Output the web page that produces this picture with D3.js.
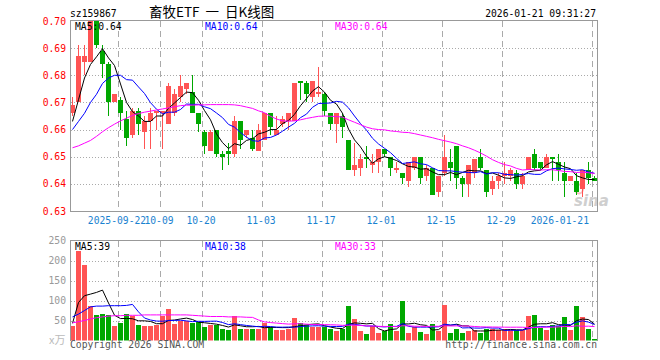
<!DOCTYPE html>
<html><head><meta charset="utf-8">
<script src="https://cdn.jsdelivr.net/npm/d3@7/dist/d3.min.js"></script>
<style>html,body{margin:0;padding:0;background:#fff}svg{display:block}</style>
</head><body>
<svg id="chart" width="660" height="360"></svg>
<script>
// ---------------- data ----------------
const stockCode = "sz159867";
const chartTitle = "畜牧ETF  一  日K线图";
const timeStamp = "2026-01-21 09:31:27";

const dates = [
"2025-09-10","2025-09-11","2025-09-12","2025-09-15","2025-09-16","2025-09-17","2025-09-18","2025-09-19","2025-09-22","2025-09-23",
"2025-09-24","2025-09-25","2025-09-26","2025-09-29","2025-09-30","2025-10-09","2025-10-10","2025-10-13","2025-10-14","2025-10-15",
"2025-10-16","2025-10-17","2025-10-20","2025-10-21","2025-10-22","2025-10-23","2025-10-24","2025-10-27","2025-10-28","2025-10-29",
"2025-10-30","2025-10-31","2025-11-03","2025-11-04","2025-11-05","2025-11-06","2025-11-07","2025-11-10","2025-11-11","2025-11-12",
"2025-11-13","2025-11-14","2025-11-17","2025-11-18","2025-11-19","2025-11-20","2025-11-21","2025-11-24","2025-11-25","2025-11-26",
"2025-11-27","2025-11-28","2025-12-01","2025-12-02","2025-12-03","2025-12-04","2025-12-05","2025-12-08","2025-12-09","2025-12-10",
"2025-12-11","2025-12-12","2025-12-15","2025-12-16","2025-12-17","2025-12-18","2025-12-19","2025-12-22","2025-12-23","2025-12-24",
"2025-12-25","2025-12-26","2025-12-29","2025-12-30","2025-12-31","2026-01-05","2026-01-06","2026-01-07","2026-01-08","2026-01-09",
"2026-01-12","2026-01-13","2026-01-14","2026-01-15","2026-01-16","2026-01-19","2026-01-20","2026-01-21"];

const open = [
0.666,0.670,0.685,0.685,0.700,0.689,0.684,0.670,0.671,0.664,
0.658,0.667,0.659,0.663,0.666,0.666,0.662,0.666,0.672,0.675,
0.674,0.666,0.659,0.652,0.660,0.651,0.652,0.651,0.663,0.658,
0.657,0.652,0.656,0.666,0.658,0.662,0.663,0.663,0.678,0.677,
0.672,0.673,0.673,0.666,0.662,0.665,0.656,0.645,0.646,0.650,
0.647,0.648,0.653,0.650,0.645,0.644,0.641,0.646,0.650,0.643,
0.646,0.637,0.644,0.648,0.654,0.642,0.640,0.644,0.650,0.645,
0.638,0.641,0.643,0.643,0.644,0.640,0.645,0.651,0.648,0.646,
0.650,0.648,0.644,0.641,0.641,0.638,0.645,0.642];
const high = [
0.672,0.691,0.691,0.701,0.701,0.691,0.685,0.673,0.672,0.667,
0.668,0.668,0.665,0.668,0.667,0.667,0.677,0.675,0.680,0.677,
0.680,0.666,0.660,0.660,0.660,0.652,0.655,0.665,0.663,0.660,
0.660,0.662,0.666,0.666,0.665,0.665,0.666,0.677,0.678,0.678,
0.678,0.683,0.674,0.666,0.666,0.666,0.656,0.655,0.651,0.654,
0.651,0.653,0.653,0.650,0.648,0.644,0.648,0.650,0.650,0.647,
0.646,0.643,0.658,0.653,0.654,0.643,0.647,0.649,0.653,0.645,
0.643,0.644,0.648,0.646,0.645,0.644,0.650,0.653,0.648,0.651,
0.650,0.651,0.648,0.643,0.644,0.645,0.648,0.643];
const low = [
0.665,0.670,0.680,0.685,0.690,0.679,0.665,0.670,0.660,0.654,
0.657,0.658,0.653,0.653,0.660,0.653,0.662,0.665,0.670,0.673,
0.666,0.659,0.651,0.652,0.650,0.645,0.647,0.650,0.653,0.657,
0.652,0.652,0.656,0.658,0.658,0.661,0.660,0.663,0.671,0.670,
0.670,0.672,0.665,0.660,0.655,0.657,0.645,0.643,0.643,0.646,
0.644,0.644,0.650,0.643,0.644,0.640,0.639,0.645,0.640,0.641,
0.636,0.635,0.643,0.641,0.638,0.635,0.635,0.642,0.645,0.635,
0.636,0.638,0.640,0.641,0.638,0.638,0.645,0.645,0.645,0.646,
0.641,0.641,0.635,0.641,0.636,0.635,0.640,0.641];
const close = [
0.669,0.687,0.687,0.700,0.691,0.684,0.670,0.673,0.666,0.657,
0.667,0.662,0.663,0.666,0.667,0.667,0.676,0.673,0.676,0.677,
0.666,0.662,0.654,0.659,0.651,0.650,0.651,0.663,0.656,0.660,
0.653,0.660,0.666,0.661,0.660,0.664,0.666,0.677,0.677,0.673,
0.678,0.674,0.667,0.662,0.666,0.661,0.645,0.647,0.649,0.649,
0.648,0.653,0.651,0.646,0.646,0.642,0.648,0.650,0.642,0.646,
0.636,0.643,0.650,0.646,0.642,0.640,0.647,0.649,0.646,0.637,
0.641,0.643,0.644,0.645,0.640,0.643,0.650,0.646,0.646,0.650,
0.649,0.645,0.641,0.643,0.637,0.645,0.642,0.641];

const ma5 = [
0.6630,0.6710,0.6790,0.6840,0.6868,0.6898,0.6864,0.6836,0.6768,0.6700,
0.6666,0.6650,0.6630,0.6630,0.6650,0.6650,0.6678,0.6698,0.6718,0.6738,
0.6736,0.6708,0.6670,0.6636,0.6584,0.6552,0.6530,0.6548,0.6542,0.6560,
0.6566,0.6584,0.6590,0.6600,0.6600,0.6622,0.6634,0.6656,0.6688,0.6714,
0.6742,0.6758,0.6738,0.6708,0.6694,0.6660,0.6602,0.6562,0.6536,0.6502,
0.6476,0.6492,0.6500,0.6494,0.6486,0.6474,0.6464,0.6462,0.6454,0.6456,
0.6444,0.6434,0.6434,0.6442,0.6434,0.6442,0.6450,0.6448,0.6448,0.6438,
0.6440,0.6432,0.6422,0.6420,0.6426,0.6430,0.6444,0.6448,0.6450,0.6470,
0.6482,0.6472,0.6462,0.6456,0.6430,0.6422,0.6416,0.6416];
const ma10 = [
0.6600,0.6630,0.6660,0.6700,0.6730,0.6770,0.6790,0.6800,0.6800,0.6784,
0.6782,0.6757,0.6733,0.6699,0.6675,0.6658,0.6664,0.6664,0.6674,0.6694,
0.6693,0.6693,0.6684,0.6677,0.6661,0.6644,0.6619,0.6609,0.6589,0.6572,
0.6559,0.6557,0.6569,0.6571,0.6580,0.6594,0.6609,0.6623,0.6644,0.6657,
0.6682,0.6696,0.6697,0.6698,0.6704,0.6701,0.6680,0.6650,0.6622,0.6598,
0.6568,0.6547,0.6531,0.6515,0.6494,0.6475,0.6478,0.6481,0.6474,0.6471,
0.6459,0.6449,0.6448,0.6448,0.6445,0.6443,0.6442,0.6441,0.6445,0.6436,
0.6441,0.6441,0.6435,0.6434,0.6432,0.6435,0.6438,0.6435,0.6435,0.6448,
0.6456,0.6458,0.6455,0.6453,0.6450,0.6452,0.6444,0.6439];
const ma30 = [
0.6533,0.6540,0.6550,0.6560,0.6575,0.6592,0.6607,0.6620,0.6632,0.6642,
0.6652,0.6659,0.6664,0.6668,0.6672,0.6676,0.6680,0.6684,0.6688,0.6690,
0.6690,0.6691,0.6691,0.6692,0.6692,0.6692,0.6692,0.6691,0.6688,0.6683,
0.6678,0.6669,0.6662,0.6649,0.6639,0.6632,0.6631,0.6632,0.6636,0.6641,
0.6645,0.6649,0.6650,0.6649,0.6648,0.6646,0.6636,0.6627,0.6618,0.6609,
0.6603,0.6600,0.6599,0.6595,0.6593,0.6590,0.6589,0.6585,0.6580,0.6575,
0.6570,0.6564,0.6559,0.6554,0.6548,0.6540,0.6533,0.6524,0.6514,0.6502,
0.6489,0.6479,0.6471,0.6466,0.6457,0.6451,0.6453,0.6452,0.6451,0.6452,
0.6452,0.6449,0.6446,0.6445,0.6442,0.6443,0.6441,0.6438];

const volume = [
37,225,189,86,64,66,64,36,44,66,
62,38,36,36,38,62,79,41,49,49,
44,46,34,40,40,28,26,62,28,28,
28,30,45,34,26,26,30,57,45,38,
34,34,34,28,23,30,86,53,23,16,
37,19,24,41,24,99,19,33,22,16,
41,24,89,20,30,20,23,26,20,30,
28,26,28,26,26,26,61,64,32,26,
40,36,60,26,86,60,30,3];
const vma5 = [
43,95,112,116,120.2,126,93.8,63.2,54.8,55.2,
54.4,49.2,49.2,47.6,42,42,50.2,51.2,53.8,56,
52.4,45.8,44.4,42.6,40.8,37.6,33.6,39.2,36.8,34.4,
34.4,35.2,31.8,33,32.6,32.2,32.2,34.6,36.8,39.2,
40.8,41.6,37,33.6,30.6,29.8,40.2,44,43,41.6,
43,29.6,23.8,27.4,29,41.4,41.4,43.2,39.4,37.8,
26.2,27.2,38.4,38,40.8,36.6,36.4,23.8,23.8,23.8,
25.4,26,26.4,27.6,26.8,26.4,33.4,40.6,41.8,41.8,
44.6,39.6,38.8,37.6,49.6,53.6,52.4,41];
const vma10 = [
59,66,75,84,86,86,87,87,87,87.7,
90.2,71.5,56.2,51.2,48.6,48.2,49.7,50.2,50.7,49,
47.2,48,47.8,48.2,48.4,45,39.7,41.8,39.7,37.6,
36,34.4,35.5,34.9,33.5,33.3,33.7,33.2,34.9,35.9,
36.5,36.9,35.8,35.2,34.9,35.3,40.9,40.5,38.3,36.1,
36.4,34.9,33.9,35.2,35.3,42.2,35.5,33.5,33.4,33.4,
33.8,34.3,40.8,38.7,39.3,31.4,31.8,31.1,30.9,32.3,
31,31.2,25.1,25.7,25.3,25.9,29.7,33.5,34.7,34.3,
35.5,36.5,39.7,39.7,45.7,49.1,46,39.9];
const vma30 = [
44,47,50,54,57,59,61,62,62,63,
63,63,64,64,64,64,64,64,64,64,
63,62,61,60,60,60,59,59,59,58.1,
57.8,51.3,46.5,44.8,43.5,42.2,41,41.7,41.8,40.8,
39.9,39.8,39.7,39.4,38.9,37.9,38.1,38.5,37.6,36.5,
36.3,35.4,35.1,35.1,34.6,36.9,36.7,35.7,35.5,35.1,
35.6,35.4,36.8,36.4,36.5,36.3,36.1,35,34.2,33.9,
33.7,33.5,33.3,33.2,33.3,33.2,32.3,32.7,33,33.3,
33.4,34,35.2,34.7,36.8,35.5,35.8,34.8];

const priceTicks = [0.63,0.64,0.65,0.66,0.67,0.68,0.69,0.70];
const volumeTicks = [50,100,150,200,250];
const xTickIndex = [8,15,22,32,42,52,62,72,87];
const xTickLabels = ["2025-09-22","10-09","10-20","11-03","11-17","12-01","12-15","12-29","2026-01-21"];
const priceLegend = ["MA5:0.64","MA10:0.64","MA30:0.64"];
const volumeLegend = ["MA5:39","MA10:38","MA30:33"];
const maColors = ["#000000","#0000ff","#ff00ff"];

// ---------------- drawing ----------------
const N = dates.length;
const RED = "#ff5454", GREEN = "#00a800";
const MONO = "'DejaVu Sans Mono', 'Liberation Mono', monospace";
const FS = "9.7px";
const svg = d3.select("#chart");

const frameL = 70.5, frameR = 597.5;
const pTop = 20.5, pBot = 211.5, vTop = 240.5, vBot = 340.5;

const x = d3.scaleBand().domain(d3.range(N)).range([70, 70 + 6 * N]).paddingInner(0).paddingOuter(0);
const bw = x.bandwidth() - 1;
const yP = d3.scaleLinear().domain([0.63, 0.70]).range([211, 21]);
const yV = d3.scaleLinear().domain([0, 250]).range([340.5, 240.5]);

const defs = svg.append("defs");
defs.append("clipPath").attr("id", "clipP").append("rect")
  .attr("x", frameL).attr("y", pTop).attr("width", frameR - frameL).attr("height", pBot - pTop);
defs.append("clipPath").attr("id", "clipV").append("rect")
  .attr("x", frameL).attr("y", vTop).attr("width", frameR - frameL).attr("height", vBot - vTop);

// header
svg.append("text").attr("x", 70).attr("y", 17).attr("font-family", MONO).attr("font-size", FS)
  .attr("fill", "#000").text(stockCode);
svg.append("text").attr("x", 149).attr("y", 16.5).attr("font-family", "'Noto Sans CJK SC', sans-serif")
  .attr("font-size", "13.5px").attr("fill", "#000").style("white-space", "pre").text(chartTitle);
svg.append("text").attr("x", 596).attr("y", 17).attr("text-anchor", "end").attr("font-family", MONO)
  .attr("font-size", FS).attr("fill", "#000").text(timeStamp);

// grids
const grid = svg.append("g").attr("shape-rendering", "crispEdges");
grid.selectAll(".hp").data(priceTicks.slice(1, -1)).join("line")
  .attr("x1", frameL).attr("x2", frameR)
  .attr("y1", d => Math.round(yP(d)) + 0.5).attr("y2", d => Math.round(yP(d)) + 0.5)
  .attr("stroke", "#aaa").attr("stroke-dasharray", "1,2");
grid.selectAll(".hv").data(volumeTicks.slice(0, -1)).join("line")
  .attr("x1", frameL).attr("x2", frameR)
  .attr("y1", d => Math.round(yV(d)) + 0.5).attr("y2", d => Math.round(yV(d)) + 0.5)
  .attr("stroke", "#aaa").attr("stroke-dasharray", "1,2");
[[pTop, pBot], [vTop, vBot]].forEach(([t, b]) => {
  grid.append("g").selectAll("line").data(xTickIndex).join("line")
    .attr("x1", d => x(d) + 0.5).attr("x2", d => x(d) + 0.5)
    .attr("y1", t).attr("y2", b)
    .attr("stroke", "#aaa").attr("stroke-dasharray", "6,4");
});

// watermark
const wm = svg.append("g").attr("opacity", 0.5);
wm.append("ellipse").attr("cx", 579).attr("cy", 189).attr("rx", 4).attr("ry", 4.5)
  .attr("fill", "none").attr("stroke", "#f08080").attr("stroke-width", 2);
wm.append("text").attr("x", 574).attr("y", 206).attr("font-family", "'DejaVu Sans', sans-serif")
  .attr("font-size", "15px").attr("font-weight", "bold").attr("font-style", "italic")
  .attr("fill", "#a0a0a0").text("sina");

// candles
const up = i => close[i] >= open[i];
const cg = svg.append("g").attr("clip-path", "url(#clipP)").attr("shape-rendering", "crispEdges");
cg.selectAll("line").data(d3.range(N)).join("line")
  .attr("x1", i => x(i) + 2.5).attr("x2", i => x(i) + 2.5)
  .attr("y1", i => yP(high[i])).attr("y2", i => yP(low[i]))
  .attr("stroke", i => up(i) ? RED : GREEN);
cg.selectAll("rect").data(d3.range(N)).join("rect")
  .attr("x", i => x(i)).attr("width", bw)
  .attr("y", i => yP(Math.max(open[i], close[i])))
  .attr("height", i => Math.max(1, Math.abs(yP(open[i]) - yP(close[i]))))
  .attr("fill", i => up(i) ? RED : GREEN);

// volume bars
const vg = svg.append("g").attr("clip-path", "url(#clipV)").attr("shape-rendering", "crispEdges");
vg.selectAll("rect").data(d3.range(N)).join("rect")
  .attr("x", i => x(i)).attr("width", bw)
  .attr("y", i => yV(volume[i])).attr("height", i => yV(0) - yV(volume[i]))
  .attr("fill", i => up(i) ? RED : GREEN);

// MA lines
const lineP = d3.line().x((d, i) => x(i) + 2.5).y(d => yP(d));
const lineV = d3.line().x((d, i) => x(i) + 2.5).y(d => yV(d));
const lp = svg.append("g").attr("clip-path", "url(#clipP)");
[ma5, ma10, ma30].forEach((s, k) => lp.append("path").attr("d", lineP(s))
  .attr("fill", "none").attr("stroke", maColors[k]).attr("stroke-width", 1));
const lv = svg.append("g").attr("clip-path", "url(#clipV)");
[vma5, vma10, vma30].forEach((s, k) => lv.append("path").attr("d", lineV(s))
  .attr("fill", "none").attr("stroke", maColors[k]).attr("stroke-width", 1));

// frames
const fr = svg.append("g").attr("fill", "none").attr("stroke", "#999").attr("shape-rendering", "crispEdges");
fr.append("rect").attr("x", frameL).attr("y", pTop).attr("width", frameR - frameL).attr("height", pBot - pTop);
fr.append("path").attr("d", `M${frameL},${vBot}V${vTop}H${frameR}V${vBot}`);

// legends
const legX = [75, 205, 335];
svg.append("g").selectAll("text").data(priceLegend).join("text")
  .attr("x", (d, i) => legX[i]).attr("y", 29.5).attr("font-family", MONO).attr("font-size", FS)
  .attr("fill", (d, i) => maColors[i]).text(d => d);
svg.append("g").selectAll("text").data(volumeLegend).join("text")
  .attr("x", (d, i) => legX[i]).attr("y", 250).attr("font-family", MONO).attr("font-size", FS)
  .attr("fill", (d, i) => maColors[i]).text(d => d);

// axes
const axP = svg.append("g").attr("transform", "translate(66,0)")
  .call(d3.axisLeft(yP).tickValues(priceTicks).tickFormat(d3.format(".2f")).tickSize(0).tickPadding(0));
axP.select(".domain").remove();
axP.selectAll("text").attr("font-family", MONO).attr("font-size", FS).attr("fill", "#f00");

const axV = svg.append("g").attr("transform", "translate(66,0)")
  .call(d3.axisLeft(yV).tickValues(volumeTicks).tickSize(0).tickPadding(0));
axV.select(".domain").remove();
axV.selectAll("text").attr("font-family", MONO).attr("font-size", FS).attr("fill", "#999");

const axX = svg.append("g").attr("transform", "translate(0,216)")
  .call(d3.axisBottom(x).tickValues(xTickIndex).tickFormat((d, i) => xTickLabels[i]).tickSize(0).tickPadding(0));
axX.select(".domain").remove();
axX.selectAll("text").attr("font-family", MONO).attr("font-size", FS).attr("fill", "#1a82d0")
  .attr("dx", -4).attr("dy", "0.78em");
axX.selectAll(".tick").filter(d => d === N - 1).select("text")
  .attr("text-anchor", "end").attr("dx", -6);

// footer
svg.append("text").attr("x", 49).attr("y", 344).attr("font-family", "'Noto Sans CJK SC', sans-serif")
  .attr("font-size", "11px").attr("fill", "#bbb").text("x万");
svg.append("text").attr("x", 70).attr("y", 348).attr("font-family", MONO).attr("font-size", FS)
  .attr("fill", "#555").text("Copyright 2026 SINA.COM");
svg.append("text").attr("x", 597).attr("y", 348).attr("text-anchor", "end").attr("font-family", MONO)
  .attr("font-size", FS).attr("fill", "#555").text("http://finance.sina.com.cn");
</script>
</body></html>
